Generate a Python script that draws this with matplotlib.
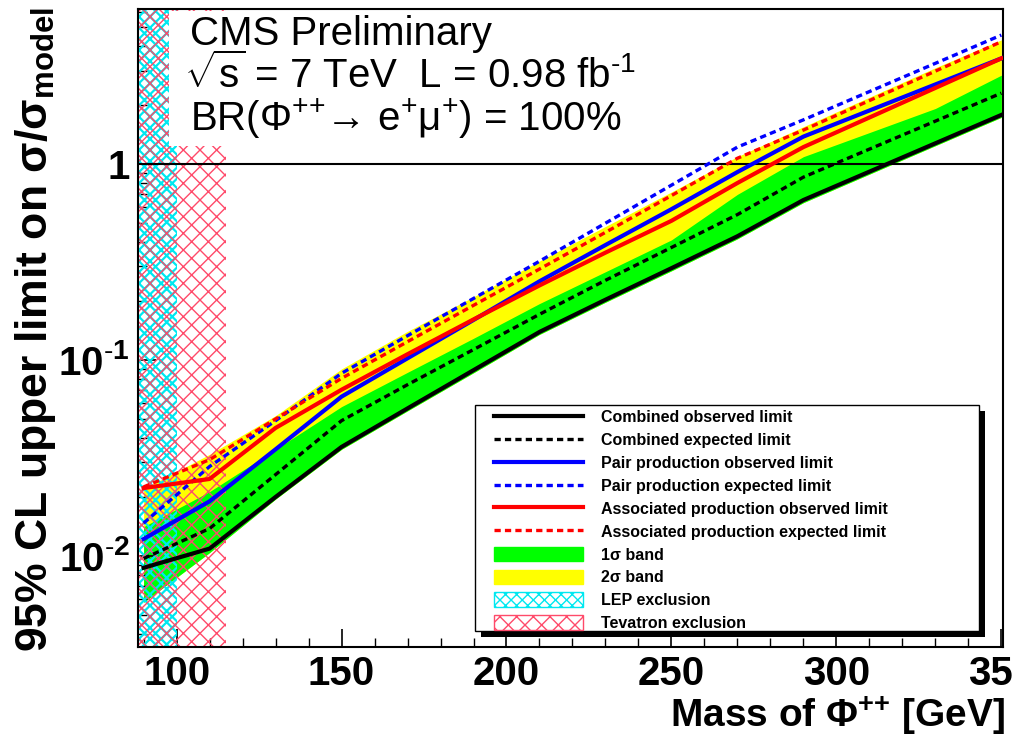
import matplotlib
matplotlib.use('Agg')
import matplotlib.pyplot as plt
import matplotlib.ticker as mticker
from matplotlib.lines import Line2D
from matplotlib.patches import Patch, Rectangle
from matplotlib.transforms import IdentityTransform
from matplotlib.font_manager import FontProperties

plt.rcParams['font.family'] = ['Liberation Sans', 'DejaVu Sans']
plt.rcParams['mathtext.fontset'] = 'custom'
plt.rcParams['mathtext.rm'] = 'Liberation Sans'
plt.rcParams['mathtext.bf'] = 'Liberation Sans:bold'
plt.rcParams['mathtext.it'] = 'Liberation Sans:italic'
plt.rcParams['mathtext.sf'] = 'Liberation Sans'
plt.rcParams['hatch.linewidth'] = 1.0
plt.rcParams['lines.scale_dashes'] = False

# ---------------- data ----------------
masses = [90, 110, 130, 150, 170, 190, 210, 230, 250, 270, 290, 350]
comb_obs = [0.0087, 0.0109, 0.020, 0.036, 0.0566, 0.0887, 0.139, 0.203, 0.294, 0.428, 0.655, 1.78]
comb_exp = [0.0097, 0.0138, 0.026, 0.049, 0.0748, 0.113, 0.171, 0.255, 0.375, 0.552, 0.857, 2.30]
pair_obs = [0.0122, 0.019, 0.035, 0.065, 0.102, 0.160, 0.252, 0.386, 0.588, 0.91, 1.38, 3.46]
pair_exp = [0.0147, 0.0286, 0.049, 0.0855, 0.133, 0.206, 0.319, 0.499, 0.78, 1.22, 1.68, 4.55]
assoc_obs = [0.0222, 0.0247, 0.045, 0.0705, 0.107, 0.161, 0.240, 0.353, 0.513, 0.80, 1.22, 3.46]
assoc_exp = [0.0225, 0.031, 0.050, 0.0806, 0.124, 0.190, 0.291, 0.448, 0.69, 1.07, 1.49, 4.21]

band_masses = [90, 110, 130, 150, 170, 190, 210, 230, 250, 270, 290, 330, 350]
green_hi = [0.0141, 0.0213, 0.035, 0.0578, 0.0865, 0.129, 0.194, 0.282, 0.41, 0.70, 1.09, 1.92, 2.84]
green_lo = [0.0058, 0.0104, 0.0195, 0.035, 0.055, 0.086, 0.135, 0.197, 0.285, 0.415, 0.635, 1.24, 1.73]
yellow_hi = [0.022, 0.033, 0.052, 0.090, 0.14, 0.21, 0.32, 0.48, 0.72, 1.09, 1.55, 3.1, 4.3]
yellow_lo = [0.0058, 0.0104, 0.0195, 0.035, 0.055, 0.086, 0.135, 0.197, 0.285, 0.415, 0.635, 1.24, 1.73]

lep_limit = 100.0
tev_limit = 115.0

x_ticks = [100, 150, 200, 250, 300, 350]
x_ticklabels = ['100', '150', '200', '250', '300', '350']
y_ticks = [0.01, 0.1, 1.0]
y_ticklabels = [r'$\mathbf{10^{\text{-}2}}$', r'$\mathbf{10^{\text{-}1}}$', '1']

legend_labels = ['Combined observed limit', 'Combined expected limit',
                 'Pair production observed limit', 'Pair production expected limit',
                 'Associated production observed limit', 'Associated production expected limit',
                 '1σ band', '2σ band', 'LEP exclusion', 'Tevatron exclusion']

# ---------------- figure ----------------
W, H = 1014, 739
fig = plt.figure(figsize=(W / 100, H / 100), dpi=100)
ax = fig.add_axes([138 / W, 1 - 647 / H, 865 / W, 638 / H])
ax.set_yscale('log')
XMIN, XMAX = 88.3, 350.5
YMIN, YMAX = 0.00343, 6.18
ax.set_xlim(XMIN, XMAX)
ax.set_ylim(YMIN, YMAX)

YEL = '#ffff00'
GRN = '#00ff00'
CYAN = '#00e8f0'
TEV = '#ff4a6a'

ax.fill_between(band_masses, yellow_lo, yellow_hi, color=YEL, lw=0, zorder=1)
ax.fill_between(band_masses, green_lo, green_hi, color=GRN, lw=0, zorder=1.1)

with plt.rc_context({'hatch.linewidth': 1.6}):
    lep_patch = ax.fill_between([XMIN, lep_limit], [YMIN, YMIN], [YMAX, YMAX], facecolor='none',
                                edgecolor=CYAN, hatch='xxx', lw=0, zorder=2)
ax.fill_between([XMIN, tev_limit], [YMIN, YMIN], [YMAX, YMAX], facecolor='none',
                edgecolor=TEV, hatch='xx', lw=0, zorder=2.1)

# white box behind the header text
ax.add_patch(Rectangle((97.8, 1.24), 245 - 97.8, 6.01 - 1.24, facecolor='white',
                       edgecolor='none', zorder=3))

ax.axhline(1.0, color='black', lw=1.5, zorder=3.5)

solid_lw = 3.0
dash_lw = 2.4
dash = (4.5, 3.0)
l1, = ax.plot(masses, comb_obs, color='black', lw=solid_lw, zorder=4.6)
l2, = ax.plot(masses, comb_exp, color='black', lw=dash_lw, dashes=dash, zorder=4.5)
l3, = ax.plot(masses, pair_obs, color='#0000ff', lw=solid_lw, zorder=4.4)
l4, = ax.plot(masses, pair_exp, color='#0000ff', lw=dash_lw, dashes=dash, zorder=4.3)
l5, = ax.plot(masses, assoc_obs, color='#ff0000', lw=solid_lw, zorder=4.4)
l6, = ax.plot(masses, assoc_exp, color='#ff0000', lw=dash_lw, dashes=dash, zorder=4.3)

# axes styling
for s in ax.spines.values():
    s.set_linewidth(1.5)
ax.set_xticks(x_ticks)
ax.set_xticklabels(x_ticklabels, fontsize=29, fontweight='bold')
ax.xaxis.set_minor_locator(mticker.MultipleLocator(10))
ax.set_yticks(y_ticks)
ax.set_yticklabels(y_ticklabels, fontsize=29, fontweight='bold')
ax.yaxis.set_minor_locator(mticker.LogLocator(base=10, subs=[2, 3, 4, 5, 6, 7, 8, 9]))
ax.yaxis.set_minor_formatter(mticker.NullFormatter())
ax.tick_params(which='major', direction='in', length=13, width=1.2, pad=6)
ax.tick_params(which='minor', direction='in', length=6.5, width=1.0)

ax.set_ylabel('95% CL upper limit on σ/σ$_{\\mathbf{model}}$', fontsize=32, fontweight='bold')
ax.yaxis.set_label_coords(-0.093, 0.497)
fig.text(1005 / W, 1 - 727 / H, 'Mass of Φ$^{\\mathbf{{+}{+}}}$ [GeV]', ha='right', va='baseline',
         fontsize=28, fontweight='bold')

# header text
fig.text(190 / W, 1 - 45 / H, 'CMS Preliminary', fontsize=29, zorder=10)
fig.text(184 / W, 1 - 88 / H, r'$\sqrt{\mathrm{s}}$ = 7 TeV  L = 0.98 fb$^{\text{-}1}$', fontsize=29, zorder=10)
fig.text(190 / W, 1 - 131 / H, 'BR(Φ$^{{+}{+}}$→ e$^{+}$μ$^{+}$) = 100%', fontsize=29, zorder=10)

# legend (frame drawn manually, ROOT style with shadow)
handles = [l1, l2, l3, l4, l5, l6,
           Patch(facecolor=GRN, edgecolor=GRN),
           Patch(facecolor=YEL, edgecolor=YEL),
           Patch(facecolor='white', edgecolor=CYAN, hatch='xxx', lw=1.0),
           Patch(facecolor='white', edgecolor=TEV, hatch='xx', lw=1.0)]
fs = 11.5
fs_px = fs * 100 / 72
legprop = FontProperties(family='Liberation Sans', weight='bold', size=fs)


def build_legend(ls, lx, ly):
    lg = ax.legend(handles, legend_labels, loc='upper left',
                   bbox_to_anchor=(lx / W, 1 - ly / H), bbox_transform=fig.transFigure,
                   prop=legprop, handlelength=89 / fs_px, handleheight=1.05,
                   handletextpad=17.7 / fs_px, borderpad=0, borderaxespad=0,
                   labelspacing=ls, frameon=False)
    lg.set_zorder(8)
    return lg


ls, lx, ly = 0.45, 494.0, 408.0
leg = build_legend(ls, lx, ly)
for _ in range(3):
    fig.canvas.draw()
    r = fig.canvas.get_renderer()
    hs = leg.legend_handles
    e0 = hs[0].get_window_extent(r)
    e5 = hs[5].get_window_extent(r)
    y0 = 0.5 * (e0.y0 + e0.y1)
    y5 = 0.5 * (e5.y0 + e5.y1)
    pitch = (y0 - y5) / 5.0
    t0 = leg.get_texts()[0].get_window_extent(r)
    ls += (22.85 - pitch) / fs_px
    lx += 601.0 - t0.x0
    ly += y0 - (H - 416.0)
    leg = build_legend(ls, lx, ly)

box_x0, box_x1, box_top, box_bot = 475, 979, 405, 631
shadow = Rectangle((box_x0 + 6, H - box_bot - 6), box_x1 - box_x0, box_bot - box_top,
                   facecolor='black', edgecolor='none', transform=IdentityTransform(),
                   zorder=7.8, clip_on=False)
frame = Rectangle((box_x0, H - box_bot), box_x1 - box_x0, box_bot - box_top,
                  facecolor='white', edgecolor='black', lw=1.0, transform=IdentityTransform(),
                  zorder=7.9, clip_on=False)
ax.add_artist(shadow)
ax.add_artist(frame)

fig.savefig('out.png', dpi=100)
